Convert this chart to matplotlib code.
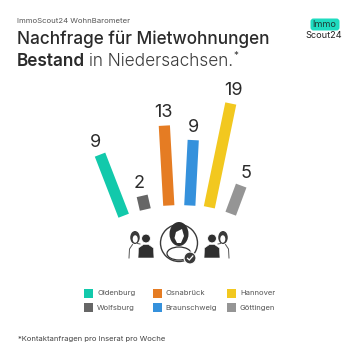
import numpy as np
import matplotlib
matplotlib.use('Agg')
import matplotlib.pyplot as plt
from matplotlib.patches import Circle, Ellipse, FancyBboxPatch, Polygon, Rectangle, Arc
from matplotlib.transforms import Affine2D

# Daten
staedte = ['Oldenburg', 'Wolfsburg', 'Osnabrück', 'Braunschweig', 'Hannover', 'Göttingen']
werte = [9, 2, 13, 9, 19, 5]
farben = ['#12c9ab', '#666666', '#e57c23', '#3591dc', '#f2c81f', '#959595']

# Fächer-Anordnung der Balken (Pixel im Bild)
fuss_x = [123.7, 145.3, 168.8, 189.8, 209.3, 230.7]
fuss_y = [215.7, 209.5, 205.5, 205.5, 207.3, 213.7]
winkel = [-21.2, -13, -3.2, 3, 11.7, 20.5]

# die Balken im Original sind nicht streng proportional
skala_wert = [2, 5, 9, 13, 19]
skala_px = [14, 30, 65.5, 80, 106]

FONT = 'Inter'
TEXT = '#2b2b2b'

fig = plt.figure(figsize=(3.6, 3.6), dpi=100, facecolor='white')
ax = fig.add_axes([0, 0, 1, 1])
ax.set_xlim(0, 360)
ax.set_ylim(360, 0)
ax.axis('off')

# Kopf
ax.text(17, 21, 'ImmoScout24 WohnBarometer', fontsize=5.6, color='#555555',
        family=FONT, va='center')
ax.text(17, 39, 'Nachfrage für Mietwohnungen', fontsize=12.4, color=TEXT,
        family=FONT, weight=500, va='center')

r = fig.canvas.get_renderer()
t1 = ax.text(17, 61, 'Bestand', fontsize=12.4, color=TEXT, family=FONT, weight=600, va='center')
x1 = t1.get_window_extent(r).x1
t2 = ax.text(x1 + 4, 61, 'in Niedersachsen.', fontsize=12.4, color='#3a3a3a', family=FONT,
             weight=300, va='center')
x2 = t2.get_window_extent(r).x1
ax.text(x2 + 0.5, 56, '*', fontsize=7, color='#3a3a3a', family=FONT, va='center')

# Logo
ax.add_patch(FancyBboxPatch((312, 20), 26, 9, boxstyle='round,pad=1.5,rounding_size=3',
                            fc='#1fdcc0', ec='none'))
ax.text(324.5, 24.5, 'Immo', fontsize=6.6, color='#1d3b36', family=FONT, ha='center', va='center')
ax.text(324, 36, 'Scout24', fontsize=6.6, color='#222222', family=FONT, ha='center', va='center')

# Balken
laengen = np.interp(werte, skala_wert, skala_px)
for i, wert in enumerate(werte):
    # y-Achse zeigt nach unten, deshalb negative Länge
    tr = Affine2D().rotate_deg(winkel[i]).translate(fuss_x[i], fuss_y[i]) + ax.transData
    ax.bar([0], [-laengen[i]], width=11.2, color=farben[i], transform=tr)
    rad = np.deg2rad(winkel[i])
    lx = fuss_x[i] + (laengen[i] + 13) * np.sin(rad)
    ly = fuss_y[i] - (laengen[i] + 13) * np.cos(rad)
    ax.text(lx, ly, str(wert), fontsize=13, color=TEXT, family=FONT, ha='center', va='center')


# Figuren
def personen(mitte, s):
    dunkel = '#2f2f2f'
    # Frau, nur Umriss
    ax.add_patch(Ellipse((mitte + s * -9.5, 237.5), 9.5, 13, fc='#3a3a3a', ec='none'))
    ax.add_patch(Ellipse((mitte + s * -9.3, 239), 5, 7.5, fc='white', ec='none'))
    ax.plot([mitte + s * -15.5, mitte + s * -15, mitte + s * -12], [258, 249, 244.5],
            color='#555555', lw=0.7)
    ax.plot([mitte + s * -4.5, mitte + s * -7], [244, 243.5], color='#555555', lw=0.7)
    # Mann, gefüllt
    ax.add_patch(Circle((mitte + s * 1.5, 238.5), 4.4, fc=dunkel, ec='white', lw=0.6))
    ax.add_patch(Polygon([[mitte + s * -6.5, 258], [mitte + s * -6, 248], [mitte + s * -1, 244.5],
                          [mitte + s * 4, 244.5], [mitte + s * 9, 248], [mitte + s * 9.5, 258]],
                         closed=True, fc=dunkel, ec='white', lw=0.4))


personen(144.5, 1)
personen(213.5, -1)

# Mitte: Frau im Kreis
ax.add_patch(Arc((179, 243), 37, 37, theta1=0, theta2=360, color='#3a3a3a', lw=1))
ax.add_patch(Ellipse((179, 234), 19, 24, fc='#2f2f2f', ec='none'))
ax.add_patch(Polygon([[176, 232], [182, 229], [184, 236], [181, 243], [177, 243], [174.5, 238]],
                     closed=True, fc='white', ec='none'))
ax.add_patch(Ellipse((179, 253.5), 24, 13, fc='white', ec='#333333', lw=0.9))
ax.add_patch(Circle((190, 258), 6, fc='#3a3a3a', ec='white', lw=0.8))
ax.plot([187.5, 189.3, 192.8], [258.3, 260, 256], color='white', lw=0.9)

# Legende
spalte_x = [84, 152.5, 227]
zeile_y = [293.3, 307.8]
for i, name in enumerate(staedte):
    sx = spalte_x[i // 2]
    sy = zeile_y[i % 2]
    ax.add_patch(Rectangle((sx, sy - 4.5), 9, 9, fc=farben[i], ec='none'))
    ax.text(sx + 13, sy, name, fontsize=5.5, color='#555555', family=FONT, va='center')

ax.text(18, 339, '*Kontaktanfragen pro Inserat pro Woche', fontsize=5.5, color='#444444',
        family=FONT, va='center')

fig.savefig('out.png', dpi=100, facecolor='white')
